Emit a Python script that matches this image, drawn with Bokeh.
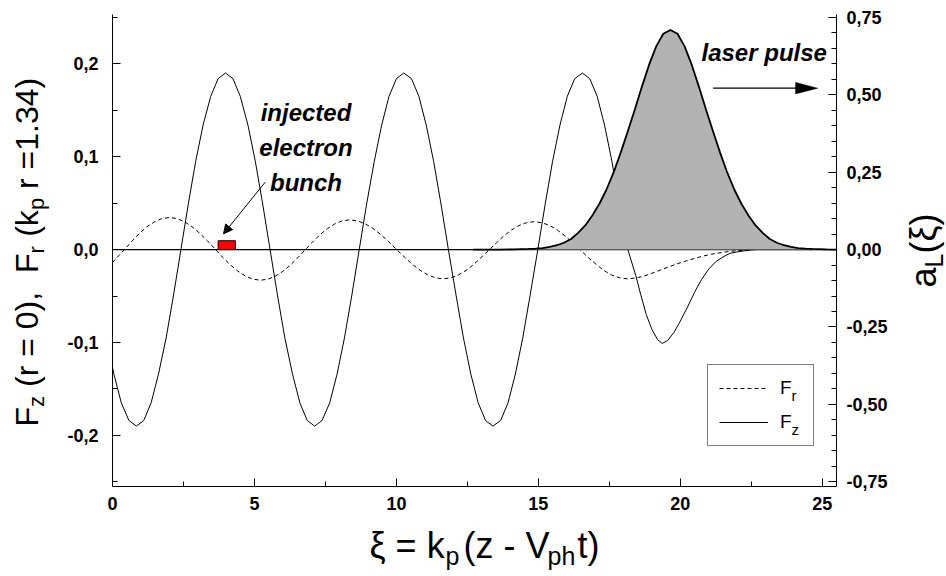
from bokeh.plotting import figure
from bokeh.models import (Range1d, LinearAxis, FixedTicker, CustomJSTickFormatter,
                          Label, Arrow, NormalHead, PolyAnnotation, Legend, LegendItem)
from bokeh.embed import file_html
from bokeh.resources import INLINE

# ---------------- data ----------------
fz_xi = [0.00, 0.05, 0.31, 0.58, 0.84, 1.10, 1.36, 1.62, 1.89, 2.15, 2.41, 2.67, 2.93, 3.19, 3.46, 3.72,
         3.98, 4.24, 4.50, 4.77, 5.03, 5.29, 5.55, 5.81, 6.07, 6.34, 6.60, 6.86, 7.12, 7.38, 7.65, 7.91,
         8.17, 8.43, 8.69, 8.95, 9.22, 9.48, 9.74, 10.00, 10.26, 10.53, 10.79, 11.05, 11.31, 11.57, 11.83,
         12.10, 12.36, 12.62, 12.88, 13.14, 13.40, 13.67, 13.93, 14.19, 14.45, 14.71, 14.98, 15.24, 15.50,
         15.76, 16.02, 16.28, 16.55, 16.81, 17.07, 17.33, 17.59, 17.86, 18.15, 18.43, 18.60, 18.80, 19.00,
         19.20, 19.36, 19.55, 19.78, 20.00, 20.25, 20.50, 20.75, 21.00, 21.25, 21.50, 21.75, 22.10, 22.60,
         25.50]
fz = [-0.127, -0.134, -0.165, -0.184, -0.190, -0.184, -0.165, -0.134, -0.095, -0.049, 0.000, 0.049, 0.095,
      0.134, 0.165, 0.184,
      0.190, 0.184, 0.165, 0.134, 0.095, 0.049, 0.000, -0.049, -0.095, -0.134, -0.165, -0.184, -0.190,
      -0.184, -0.165, -0.134, -0.095, -0.049, 0.000, 0.049, 0.095, 0.134, 0.165, 0.184,
      0.190, 0.184, 0.165, 0.134, 0.095, 0.049, 0.000, -0.049, -0.095, -0.134, -0.165, -0.184, -0.190,
      -0.184, -0.165, -0.134, -0.095, -0.049, 0.000, 0.049, 0.095, 0.134, 0.165, 0.184,
      0.190, 0.184, 0.165, 0.134, 0.095, 0.046, 0.000, -0.028, -0.048, -0.070, -0.086,
      -0.097, -0.101, -0.098, -0.089, -0.077, -0.062, -0.046, -0.032, -0.021, -0.013, -0.008, -0.004,
      -0.002, 0.000, 0.000]

fr_xi = [0.00, 0.16, 0.43, 0.69, 0.95, 1.21, 1.48, 1.74, 2.00, 2.27, 2.54, 2.80, 3.07, 3.34, 3.61, 3.87,
         4.14, 4.41, 4.68, 4.94, 5.21, 5.47, 5.73, 6.00, 6.26, 6.52, 6.78, 7.04, 7.30, 7.57, 7.83, 8.09,
         8.35, 8.63, 8.90, 9.18, 9.45, 9.73, 10.00, 10.28, 10.55, 10.83, 11.10, 11.38, 11.65, 11.92, 12.18,
         12.45, 12.72, 12.98, 13.25, 13.52, 13.78, 14.05, 14.32, 14.58, 14.85, 15.12, 15.40, 15.67, 15.94,
         16.22, 16.49, 16.76, 17.04, 17.31, 17.58, 17.86, 18.13, 18.40, 18.70, 19.00, 19.30, 19.60, 19.90,
         20.20, 20.50, 20.80, 21.10, 21.40, 21.70, 22.00, 22.40, 22.80, 25.50]
fr = [-0.0140, -0.0086, 0.0003, 0.0091, 0.0174, 0.0245, 0.0299, 0.0333, 0.0345, 0.0334, 0.0300, 0.0246,
      0.0176, 0.0095, 0.0008, -0.0080, -0.0161, -0.0231, -0.0285, -0.0318, -0.0330, -0.0319, -0.0287,
      -0.0235, -0.0168, -0.0089, -0.0005, 0.0079, 0.0158, 0.0225, 0.0276, 0.0309, 0.0320, 0.0309, 0.0277,
      0.0227, 0.0161, 0.0085, 0.0003, -0.0080, -0.0156, -0.0222, -0.0272, -0.0304, -0.0315, -0.0304,
      -0.0274, -0.0225, -0.0161, -0.0087, -0.0008, 0.0072, 0.0146, 0.0210, 0.0259, 0.0289, 0.0300, 0.0290,
      0.0259, 0.0210, 0.0146, 0.0072, -0.0008, -0.0087, -0.0161, -0.0225, -0.0274, -0.0304, -0.0315,
      -0.0307, -0.0288, -0.0255, -0.0220, -0.0185, -0.0152, -0.0122, -0.0095, -0.0070, -0.0050, -0.0034,
      -0.0021, -0.0012, -0.0004, 0.0000, 0.0000]

al_xi = [12.70, 13.65, 14.15, 14.65, 14.90, 15.15, 15.40, 15.65, 15.90, 16.15, 16.40, 16.65, 16.90, 17.15,
         17.40, 17.65, 17.90, 18.15, 18.40, 18.65, 18.90, 19.15, 19.40, 19.65, 19.90, 20.15, 20.40, 20.65,
         20.90, 21.15, 21.40, 21.65, 21.90, 22.15, 22.40, 22.65, 22.90, 23.15, 23.40, 23.65, 23.90, 24.15,
         24.40, 24.65, 25.15, 25.50]
al = [0.0, 0.0, 0.0005, 0.002, 0.003, 0.005, 0.009, 0.014, 0.022, 0.034, 0.054, 0.078, 0.110, 0.148,
      0.194, 0.249, 0.313, 0.382, 0.453, 0.527, 0.597, 0.656, 0.697, 0.709, 0.697, 0.656, 0.597, 0.527,
      0.453, 0.382, 0.313, 0.249, 0.194, 0.148, 0.110, 0.078, 0.054, 0.034, 0.022, 0.014, 0.009, 0.005,
      0.003, 0.002, 0.0005, 0.0]

bunch_left = [3.72]
bunch_right = [4.33]
bunch_bottom = [0.0]
bunch_top = [0.0095]

x_ticks = [0, 5, 10, 15, 20, 25]
x_minor = [2.5, 7.5, 12.5, 17.5, 22.5]
left_ticks = [-0.2, -0.1, 0.0, 0.1, 0.2]
left_minor = [-0.25, -0.15, -0.05, 0.05, 0.15, 0.25]
right_ticks = [-0.75, -0.5, -0.25, 0.0, 0.25, 0.5, 0.75]
right_minor = [-0.70, -0.65, -0.60, -0.55, -0.45, -0.40, -0.35, -0.30, -0.20, -0.15, -0.10, -0.05,
               0.05, 0.10, 0.15, 0.20, 0.30, 0.35, 0.40, 0.45, 0.55, 0.60, 0.65, 0.70]

assert len(fz_xi) == len(fz) and len(fr_xi) == len(fr) and len(al_xi) == len(al)

# ---------------- layout ----------------
W, H = 946, 576
FL, FR, FT, FB = 112, 836, 14, 486          # data box inside the canvas (pixels)
X0, X1 = 0.0, 25.5
Y0, Y1 = -0.255, 0.253
R0, R1 = -0.765, 0.759
FONT = "Liberation Sans"
BASE_FIX = 0.32   # bokeh places the alphabetic baseline ~0.32 em lower than requested

PPX = (FR - FL) / (X1 - X0)
PPY = (FB - FT) / (Y1 - Y0)
RPY = (FB - FT) / (R1 - R0)
XS, XE = X0 - FL / PPX, X1 + (W - FR) / PPX
YS, YE = Y0 - (H - FB) / PPY, Y1 + FT / PPY
RS, RE = R0 - (H - FB) / RPY, R1 + FT / RPY


def dx(px):
    return XS + px / PPX


def dy(py):
    return YE - py / PPY


p = figure(width=W, height=H, x_range=Range1d(XS, XE), y_range=Range1d(YS, YE),
           output_backend="svg", toolbar_location=None, min_border=0)
p.extra_y_ranges = {"aL": Range1d(RS, RE)}
p.grid.visible = False
p.outline_line_color = None
p.background_fill_color = "white"
p.border_fill_color = "white"

right_axis = LinearAxis(y_range_name="aL")
p.add_layout(right_axis, "right")

xa, ya = p.xaxis[0], p.yaxis[0]
xa.ticker = FixedTicker(ticks=x_ticks, minor_ticks=x_minor)
ya.ticker = FixedTicker(ticks=left_ticks, minor_ticks=left_minor)
right_axis.ticker = FixedTicker(ticks=right_ticks, minor_ticks=right_minor)
ya.formatter = CustomJSTickFormatter(code="return tick.toFixed(1).replace('.', ',');")
right_axis.formatter = CustomJSTickFormatter(code="return tick.toFixed(2).replace('.', ',');")
xa.fixed_location = Y0
xa.bounds = (X0, X1)
ya.fixed_location = X0
ya.bounds = (Y0, Y1)
right_axis.fixed_location = X1
right_axis.bounds = (R0, R1)

for ax in (xa, ya, right_axis):
    ax.axis_line_color = "black"
    ax.axis_line_width = 1
    ax.major_tick_line_color = "black"
    ax.minor_tick_line_color = "black"
    ax.major_tick_out = 0
    ax.minor_tick_out = 0
    ax.major_tick_in = 8
    ax.minor_tick_in = 5
    ax.major_label_text_font = FONT
    ax.major_label_text_font_style = "bold"
    ax.major_label_text_font_size = "18px"
    ax.major_label_text_color = "black"
ya.major_label_standoff = 14
xa.major_label_standoff = 10
right_axis.major_label_standoff = 10

# zero line across the data box
zero_x = [X0, X1]
zero_y = [0.0, 0.0]
p.line(zero_x, zero_y, line_color="black", line_width=1.2, level="underlay")

fz_r = p.line(fz_xi, fz, line_color="black", line_width=1)
fr_r = p.line(fr_xi, fr, line_color="black", line_width=1, line_dash="4 3")
p.varea(x=al_xi, y1=0, y2=al, fill_color="#b3b3b3", y_range_name="aL")
p.line(al_xi, al, line_color="black", line_width=1.8, y_range_name="aL")
p.quad(left=bunch_left, right=bunch_right, bottom=bunch_bottom, top=bunch_top,
       fill_color="#ff0000", line_color="black", line_width=1)

# legend (box bottom-left at canvas x=707, y=446); transparent so the subscripts show
legend = Legend(items=[LegendItem(label="F", renderers=[fr_r]), LegendItem(label="F", renderers=[fz_r])],
                location=(707, H - 446), border_line_color="black", border_line_width=1,
                background_fill_alpha=0.0, padding=11, spacing=10,
                margin=0, glyph_width=49, glyph_height=24, label_standoff=12, label_width=22,
                label_height=24, label_text_font=FONT, label_text_font_size="19px",
                label_text_color="black")
p.add_layout(legend)


def lbl(text, px, py, size, style="normal", angle=0.0, align="left"):
    if angle:
        px = px - BASE_FIX * size
    else:
        py = py - BASE_FIX * size
    p.add_layout(Label(x=dx(px), y=dy(py), text=text, text_font=FONT, text_font_size=f"{size}px",
                       text_font_style=style, angle=angle, text_align=align,
                       text_baseline="alphabetic", text_color="black"))


# legend subscripts
lbl("r", 791, 400, 15)
lbl("z", 791, 434, 15)

# annotations
lbl("injected", 305.5, 120, 24, "bold italic", align="center")
lbl("electron", 305.5, 155, 24, "bold italic", align="center")
lbl("bunch", 305.5, 190, 24, "bold italic", align="center")
lbl("laser pulse", 701, 60, 24, "bold italic")

p.add_layout(Arrow(end=NormalHead(size=9, fill_color="black", line_color="black"),
                   x_start=dx(264.7), y_start=dy(181.7), x_end=dx(223), y_end=dy(233.3),
                   line_color="black", line_width=1))
p.add_layout(Arrow(end=None, x_start=dx(712.7), y_start=dy(87.7), x_end=dx(797), y_end=dy(87.7),
                   line_color="black", line_width=1.3))
p.add_layout(PolyAnnotation(xs=[dx(795), dx(817.5), dx(795)], ys=[dy(81.8), dy(87.7), dy(93.6)],
                            fill_color="black", fill_alpha=1.0, line_color="black", line_width=1))

# left axis title (rotated, with subscripts)
A = 1.5707963267948966
for text, bx, sy, size in [("F", 37, 426, 32), ("z", 43, 406.4, 22), ("(r = 0),", 37, 386.5, 32),
                           ("F", 37, 272.6, 32), ("r", 43, 253.0, 22), ("(k", 37, 236.3, 32),
                           ("p", 43, 209.6, 22), ("r =1.34)", 37, 188.5, 32)]:
    lbl(text, bx, sy, size, angle=A)

# right axis title
for text, bx, sy, size in [("a", 935, 287, 36), ("L", 941, 267, 25), ("(ξ)", 935, 253, 36)]:
    lbl(text, bx, sy, size, angle=A)

# bottom axis title
for text, px, py, size in [("ξ = k", 369, 556.6, 36), ("p", 445, 563, 25), ("(z - V", 463, 556.6, 36),
                           ("ph", 547, 563, 25), ("t)", 577, 556.6, 36)]:
    lbl(text, px, py, size)

open("out.html", "w").write(file_html(p, INLINE))
